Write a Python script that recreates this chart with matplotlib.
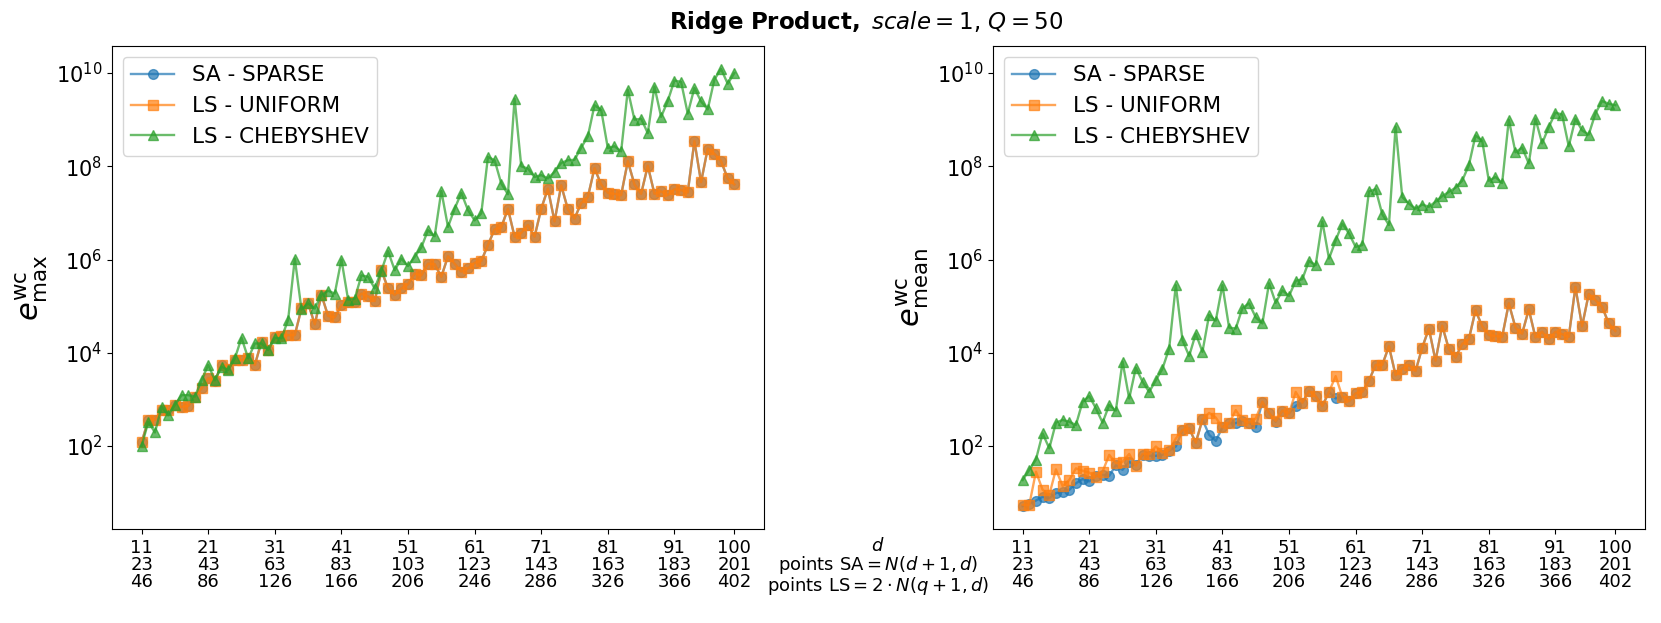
import numpy as np
import matplotlib
matplotlib.use("Agg")
import matplotlib.pyplot as plt

# dimension d on the x axis
d = np.arange(11, 101)

# values, stored as log10(error)
# left panel: e_max
max_sa_log = [2.08, 2.56, 2.56, 2.77, 2.77, 2.88, 2.84, 2.86, 3.06, 3.24,
              3.45, 3.40, 3.74, 3.66, 3.84, 3.84, 3.88, 3.74, 4.24, 4.06,
              4.34, 4.36, 4.38, 4.38, 4.95, 5.06, 4.61, 5.24, 4.79, 4.76,
              5.02, 5.09, 5.09, 5.27, 5.21, 5.11, 5.77, 5.38, 5.24, 5.38,
              5.47, 5.70, 5.66, 5.91, 5.90, 5.63, 6.07, 5.91, 5.74, 5.81,
              5.93, 5.97, 6.31, 6.65, 6.69, 7.09, 6.49, 6.57, 6.74, 6.49,
              7.09, 7.52, 6.82, 7.59, 7.08, 6.88, 7.21, 7.34, 7.96, 7.61,
              7.43, 7.41, 7.38, 8.11, 7.61, 7.41, 8.01, 7.41, 7.46, 7.38,
              7.51, 7.49, 7.44, 8.54, 7.66, 8.38, 8.27, 8.11, 7.74, 7.61]
max_uniform_log = [2.08, 2.56, 2.56, 2.77, 2.77, 2.88, 2.84, 2.86, 3.06, 3.24,
                   3.45, 3.40, 3.74, 3.66, 3.84, 3.84, 3.88, 3.74, 4.24, 4.06,
                   4.34, 4.36, 4.38, 4.38, 4.95, 5.06, 4.61, 5.24, 4.79, 4.76,
                   5.02, 5.09, 5.09, 5.27, 5.21, 5.11, 5.77, 5.38, 5.24, 5.38,
                   5.47, 5.70, 5.66, 5.91, 5.90, 5.63, 6.07, 5.91, 5.74, 5.81,
                   5.93, 5.97, 6.31, 6.65, 6.69, 7.09, 6.49, 6.57, 6.74, 6.49,
                   7.09, 7.52, 6.82, 7.59, 7.08, 6.88, 7.21, 7.34, 7.96, 7.61,
                   7.43, 7.41, 7.38, 8.11, 7.61, 7.41, 8.01, 7.41, 7.46, 7.38,
                   7.51, 7.49, 7.44, 8.54, 7.66, 8.38, 8.27, 8.11, 7.74, 7.61]
max_cheb_log = [2.00, 2.52, 2.29, 2.84, 2.66, 2.88, 3.09, 3.09, 3.06, 3.41,
                3.74, 3.41, 3.70, 3.63, 3.88, 4.32, 3.88, 4.20, 4.20, 4.06,
                4.32, 4.31, 4.71, 6.02, 4.93, 5.06, 4.95, 5.24, 5.33, 5.27,
                6.00, 5.14, 5.16, 5.66, 5.63, 5.38, 5.76, 6.18, 5.77, 6.02,
                5.86, 6.06, 6.26, 6.63, 6.50, 7.47, 6.70, 7.09, 7.43, 7.06,
                6.84, 6.99, 8.20, 8.13, 7.63, 7.40, 9.45, 8.00, 7.95, 7.77,
                7.81, 7.74, 7.88, 8.07, 8.13, 8.14, 8.40, 8.64, 9.31, 9.21,
                8.39, 8.43, 8.32, 9.64, 9.00, 9.02, 8.71, 9.71, 9.06, 9.40,
                9.84, 9.81, 9.13, 9.68, 9.39, 9.22, 9.86, 10.09, 9.77, 10.00]

# right panel: e_mean
mean_sa_log = [0.71, 0.76, 0.83, 0.91, 0.88, 0.99, 1.02, 1.06, 1.20, 1.29,
               1.24, 1.36, 1.38, 1.36, 1.59, 1.49, 1.66, 1.59, 1.81, 1.79,
               1.79, 1.81, 1.90, 1.99, 2.34, 2.38, 2.07, 2.57, 2.24, 2.11,
               2.40, 2.49, 2.49, 2.54, 2.50, 2.40, 2.95, 2.71, 2.52, 2.76,
               2.70, 2.86, 2.93, 3.18, 3.07, 2.86, 3.16, 3.02, 3.06, 2.96,
               3.13, 3.16, 3.40, 3.74, 3.74, 4.14, 3.52, 3.66, 3.74, 3.61,
               4.11, 4.52, 3.83, 4.58, 4.08, 3.90, 4.19, 4.29, 4.91, 4.57,
               4.38, 4.36, 4.34, 5.06, 4.54, 4.41, 4.93, 4.33, 4.45, 4.29,
               4.45, 4.40, 4.34, 5.41, 4.57, 5.26, 5.13, 4.99, 4.63, 4.47]
mean_uniform_log = [0.74, 0.74, 1.45, 1.06, 0.95, 1.50, 1.14, 1.27, 1.52, 1.47,
                    1.43, 1.34, 1.45, 1.81, 1.63, 1.66, 1.83, 1.57, 1.83, 1.83,
                    1.99, 1.86, 1.91, 2.16, 2.34, 2.38, 2.07, 2.57, 2.71, 2.61,
                    2.40, 2.49, 2.77, 2.56, 2.50, 2.59, 2.95, 2.71, 2.54, 2.76,
                    2.70, 3.16, 2.93, 3.18, 3.07, 2.86, 3.16, 3.50, 3.06, 2.96,
                    3.13, 3.16, 3.40, 3.74, 3.74, 4.14, 3.52, 3.66, 3.74, 3.61,
                    4.11, 4.52, 3.83, 4.58, 4.08, 3.90, 4.19, 4.29, 4.91, 4.57,
                    4.38, 4.36, 4.34, 5.06, 4.54, 4.41, 4.93, 4.33, 4.45, 4.29,
                    4.45, 4.40, 4.34, 5.41, 4.57, 5.26, 5.13, 4.99, 4.63, 4.47]
mean_cheb_log = [1.27, 1.49, 1.71, 2.27, 1.95, 2.50, 2.56, 2.52, 2.45, 2.95,
                 3.07, 2.81, 2.50, 2.88, 2.76, 3.81, 3.02, 3.68, 3.38, 3.16,
                 3.41, 3.66, 4.09, 5.45, 4.27, 3.93, 4.41, 4.02, 4.81, 4.69,
                 5.45, 4.54, 4.52, 4.96, 5.06, 4.76, 4.63, 5.49, 5.07, 5.34,
                 5.22, 5.54, 5.58, 5.97, 5.88, 6.82, 6.02, 6.41, 6.77, 6.56,
                 6.27, 6.31, 7.46, 7.51, 6.97, 6.74, 8.85, 7.34, 7.20, 7.09,
                 7.18, 7.13, 7.24, 7.36, 7.45, 7.54, 7.69, 8.02, 8.66, 8.55,
                 7.69, 7.77, 7.64, 9.00, 8.30, 8.40, 8.06, 9.02, 8.49, 8.84,
                 9.15, 9.11, 8.43, 9.02, 8.77, 8.68, 9.13, 9.40, 9.34, 9.31]

# x tick labels
tick_d = [11, 21, 31, 41, 51, 61, 71, 81, 91, 100]
tick_sa = [23, 43, 63, 83, 103, 123, 143, 163, 183, 201]
tick_ls = [46, 86, 126, 166, 206, 246, 286, 326, 366, 402]
tick_labels = [f"{a}\n{b}\n{c}" for a, b, c in zip(tick_d, tick_sa, tick_ls)]

labels = ["SA - SPARSE", "LS - UNIFORM", "LS - CHEBYSHEV"]
markers = ["o", "s", "^"]
colors = ["tab:blue", "tab:orange", "tab:green"]

W, H = 1661, 623
fig = plt.figure(figsize=(W / 100, H / 100), dpi=100)
ax1 = fig.add_axes([112 / W, 1 - 529 / H, 652 / W, 483 / H])
ax2 = fig.add_axes([993 / W, 1 - 529 / H, 652 / W, 483 / H])

panels = [
    (ax1, [max_sa_log, max_uniform_log, max_cheb_log], r"$e^{\mathrm{wc}}_{\max}$"),
    (ax2, [mean_sa_log, mean_uniform_log, mean_cheb_log], r"$e^{\mathrm{wc}}_{\mathrm{mean}}$"),
]

for ax, series, ylab in panels:
    for vals, lab, m, c in zip(series, labels, markers, colors):
        ax.plot(d, 10.0 ** np.array(vals), marker=m, color=c, label=lab,
                alpha=0.7, markersize=7, linewidth=1.7)
    ax.set_yscale("log")
    ax.set_ylim(10 ** 0.22, 10 ** 10.58)
    ax.set_yticks([1e2, 1e4, 1e6, 1e8, 1e10])
    ax.minorticks_off()
    ax.set_xticks(tick_d)
    ax.set_xticklabels(tick_labels, linespacing=0.95)
    ax.tick_params(axis="x", labelsize=13)
    ax.tick_params(axis="y", labelsize=15)
    ax.set_ylabel(ylab, fontsize=22)
    ax.legend(loc="upper left", fontsize=15.5)

fig.text(878 / W, 1 - 537 / H,
         "$d$\npoints SA$=N(d+1,d)$\npoints LS$=2\\cdot N(q+1,d)$",
         ha="center", va="top", fontsize=13, linespacing=0.95)
fig.suptitle(r"$\bf{Ridge\ Product,}$ $scale=1$, $Q=50$",
             x=866 / W, y=1 - 23 / H, va="center", fontsize=16.5)

fig.savefig("out.png", dpi=100)
